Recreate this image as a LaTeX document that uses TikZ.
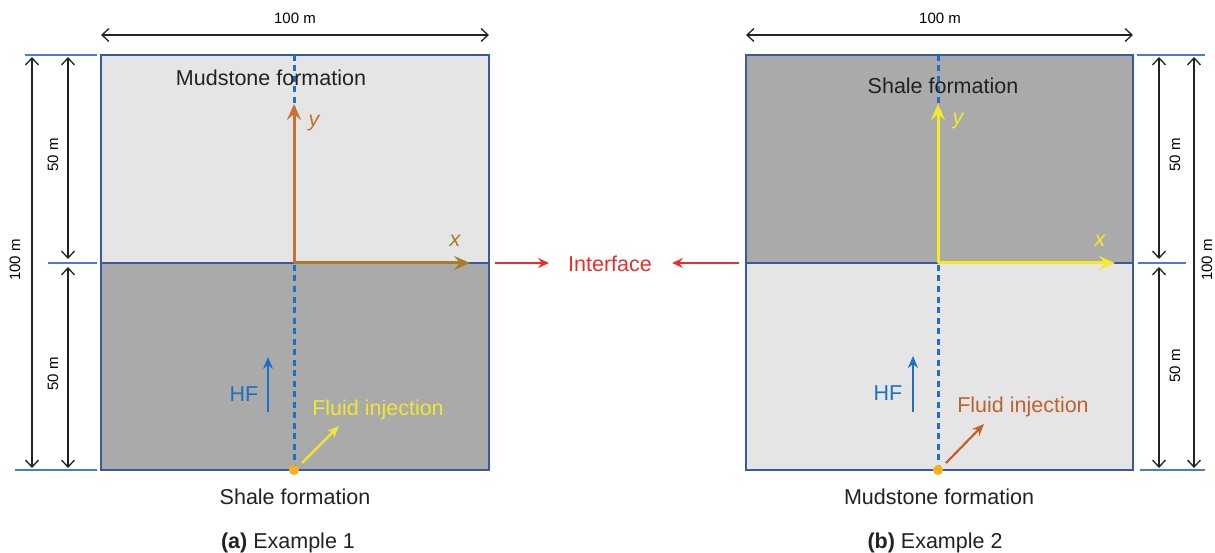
\documentclass[tikz,border=0pt]{standalone}
\usepackage{fontspec}
\setmainfont{Liberation Sans}
\usetikzlibrary{arrows.meta}
\definecolor{lightrock}{HTML}{E5E5E5}
\definecolor{darkrock}{HTML}{A9AAA9}
\definecolor{frameblue}{HTML}{3A5A9C}
\definecolor{tickblue}{HTML}{4A7CC9}
\definecolor{wellblue}{HTML}{1E70C0}
\definecolor{axisorange}{HTML}{C96F38}
\definecolor{axisgold}{HTML}{A87B28}
\definecolor{axisyellow}{HTML}{F2EA2A}
\definecolor{injyellow}{HTML}{F0E830}
\definecolor{injbrown}{HTML}{C0622C}
\definecolor{ifred}{HTML}{E8302A}
\definecolor{dotorange}{HTML}{F5B21B}
\definecolor{dimblack}{HTML}{222222}
\tikzset{
  big/.style={font=\fontsize{21.5}{26}\selectfont, inner sep=0pt},
  small/.style={font=\fontsize{15}{18}\selectfont, inner sep=0pt},
  frame/.style={draw=frameblue, line width=1.6pt},
  dimline/.style={draw=dimblack, line width=1.3pt, {Straight Barb[length=7pt,width=13pt]}-{Straight Barb[length=7pt,width=13pt]}},
  tickline/.style={draw=tickblue, line width=1.3pt},
  well/.style={draw=wellblue, line width=3pt, dash pattern=on 6pt off 4.5pt},
  axis/.style={line width=3pt, -{Stealth[length=16pt,width=14pt,inset=6pt]}},
  hfarrow/.style={draw=wellblue, line width=2pt, -{Stealth[length=12pt,width=10pt,inset=4pt]}},
  injarrow/.style={line width=2.2pt, -{Stealth[length=12pt,width=10pt,inset=4pt]}},
  ifarrow/.style={draw=ifred, line width=1.5pt, -{Stealth[length=11pt,width=10pt,inset=4pt]}},
  dot/.style={circle, fill=dotorange, inner sep=0pt, minimum size=10pt},
}
\begin{document}
\begin{tikzpicture}[x=1pt,y=-1pt]
\useasboundingbox (0,0) rectangle (1215,553);

% ---------- Example 1 ----------
\fill[lightrock] (101,55) rectangle (489,263);
\fill[darkrock] (101,263) rectangle (489,470);
\draw[frame] (101,55) rectangle (489,470);
\draw[frame] (101,263) -- (489,263);
\draw[well] (294,55) -- (294,470);

% dimensions
\coordinate (aTL) at (101,35); \coordinate (aTR) at (489,35);
\draw[dimline] (aTL) -- (aTR);
\node[small] (aW) at (295,18) {100 m};
\coordinate (aT0) at (25,55); \coordinate (aT1) at (97,55);
\coordinate (aM0) at (48,263); \coordinate (aM1) at (97,263);
\coordinate (aB0) at (15,470); \coordinate (aB1) at (97,470);
\draw[tickline] (aT0) -- (aT1);
\draw[tickline] (aM0) -- (aM1);
\draw[tickline] (aB0) -- (aB1);
\coordinate (aH0) at (32,57); \coordinate (aH1) at (32,468);
\draw[dimline] (aH0) -- (aH1);
\coordinate (aU0) at (68,57); \coordinate (aU1) at (68,259);
\coordinate (aL0) at (68,267); \coordinate (aL1) at (68,468);
\draw[dimline] (aU0) -- (aU1);
\draw[dimline] (aL0) -- (aL1);
\node[small, rotate=90] (aHlab) at (15,260) {100 m};
\node[small, rotate=90] (aUlab) at (53,155) {50 m};
\node[small, rotate=90] (aLlab) at (53,374) {50 m};

% axes
\coordinate (aO) at (294,263);
\coordinate (aY) at (294,104);
\coordinate (aX) at (470,263);
\draw[axis, draw=axisgold] (aO) -- (aX);
\draw[axis, draw=axisorange] (aO) -- (aY);
\node[big, text=axisgold, font=\fontsize{21.5}{26}\selectfont\itshape] (aXlab) at (455,241) {x};
\node[big, text=axisorange!70!axisgold, font=\fontsize{21.5}{26}\selectfont\itshape] (aYlab) at (314,123) {y};

% labels
\node[big, text=dimblack] (aTop) at (271,78) {Mudstone formation};
\node[big, text=wellblue] (aHF) at (244,394) {HF};
\coordinate (aHF0) at (268,412); \coordinate (aHF1) at (268,357);
\draw[hfarrow] (aHF0) -- (aHF1);
\node[dot] (aDot) at (294,470) {};
\coordinate (aInj0) at (302,463); \coordinate (aInj1) at (339,426);
\draw[injarrow, draw=injyellow] (aInj0) -- (aInj1);
\node[big, text=injyellow] (aInj) at (378,410) {Fluid injection};
\node[big, text=dimblack] (aBot) at (295,497) {Shale formation};
\node[big, text=dimblack] (aCap) at (288,543) {\textbf{(a)} Example 1};

% ---------- interface ----------
\node[big, text=ifred] (iface) at (610,264) {Interface};
\coordinate (iL0) at (495,263); \coordinate (iL1) at (549,263);
\coordinate (iR0) at (739,263); \coordinate (iR1) at (672,263);
\draw[ifarrow] (iL0) -- (iL1);
\draw[ifarrow] (iR0) -- (iR1);

% ---------- Example 2 ----------
\fill[darkrock] (746,55) rectangle (1133,263);
\fill[lightrock] (746,263) rectangle (1133,470);
\draw[frame] (746,55) rectangle (1133,470);
\draw[frame] (746,263) -- (1133,263);
\draw[well] (938,55) -- (938,470);

\coordinate (bTL) at (746,35); \coordinate (bTR) at (1133,35);
\draw[dimline] (bTL) -- (bTR);
\node[small] (bW) at (940,18) {100 m};
\coordinate (bT0) at (1137,55); \coordinate (bT1) at (1205,55);
\coordinate (bM0) at (1138,263); \coordinate (bM1) at (1186,263);
\coordinate (bB0) at (1140,470); \coordinate (bB1) at (1205,470);
\draw[tickline] (bT0) -- (bT1);
\draw[tickline] (bM0) -- (bM1);
\draw[tickline] (bB0) -- (bB1);
\coordinate (bH0) at (1194,57); \coordinate (bH1) at (1194,468);
\draw[dimline] (bH0) -- (bH1);
\coordinate (bU0) at (1159,57); \coordinate (bU1) at (1159,259);
\coordinate (bL0) at (1159,267); \coordinate (bL1) at (1159,468);
\draw[dimline] (bU0) -- (bU1);
\draw[dimline] (bL0) -- (bL1);
\node[small, rotate=90] (bHlab) at (1207,260) {100 m};
\node[small, rotate=90] (bUlab) at (1175,155) {50 m};
\node[small, rotate=90] (bLlab) at (1175,366) {50 m};

\coordinate (bO) at (938,263);
\coordinate (bY) at (938,104);
\coordinate (bX) at (1115,263);
\draw[axis, draw=axisyellow] (bO) -- (bX);
\draw[axis, draw=axisyellow] (bO) -- (bY);
\node[big, text=axisyellow, font=\fontsize{21.5}{26}\selectfont\itshape] (bXlab) at (1100,241) {x};
\node[big, text=axisyellow, font=\fontsize{21.5}{26}\selectfont\itshape] (bYlab) at (958,121) {y};

\node[big, text=dimblack] (bTop) at (943,86) {Shale formation};
\node[big, text=wellblue] (bHF) at (888,393) {HF};
\coordinate (bHF0) at (913,412); \coordinate (bHF1) at (913,356);
\draw[hfarrow] (bHF0) -- (bHF1);
\node[dot] (bDot) at (938,470) {};
\coordinate (bInj0) at (946,463); \coordinate (bInj1) at (984,424);
\draw[injarrow, draw=injbrown] (bInj0) -- (bInj1);
\node[big, text=injbrown] (bInj) at (1023,407) {Fluid injection};
\node[big, text=dimblack] (bBot) at (939,497) {Mudstone formation};
\node[big, text=dimblack] (bCap) at (935,543) {\textbf{(b)} Example 2};
\end{tikzpicture}
\end{document}
